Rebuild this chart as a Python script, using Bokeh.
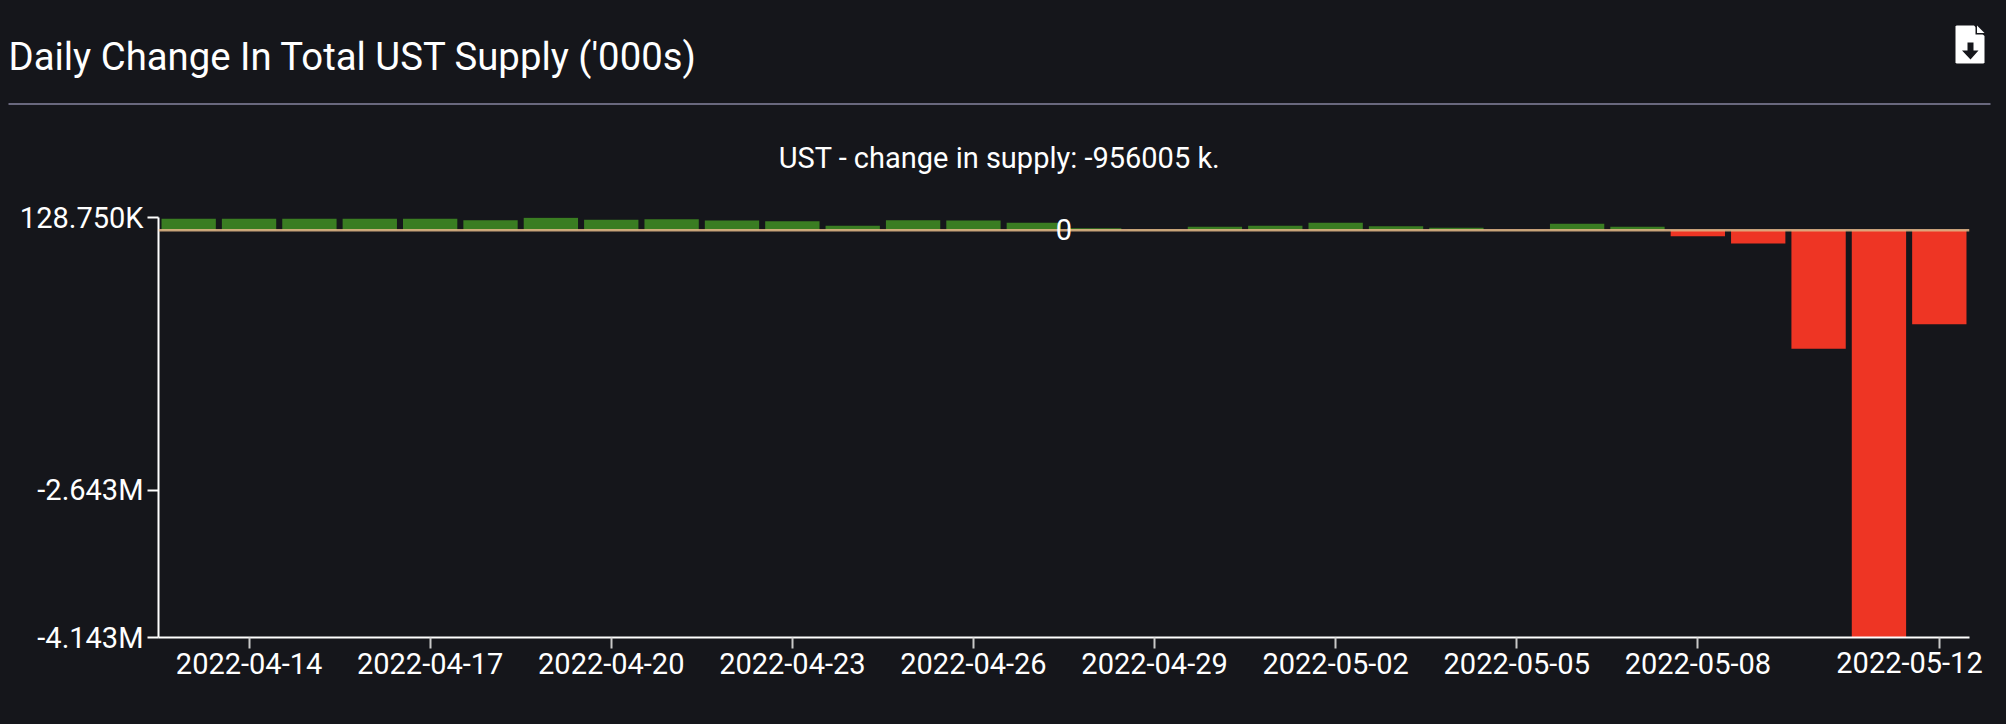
from bokeh.plotting import figure
from bokeh.embed import file_html
from bokeh.resources import INLINE
from bokeh.models import Range1d, FixedTicker, Label, Span
from bokeh.core.properties import value

dates = ["2022-04-13","2022-04-14","2022-04-15","2022-04-16","2022-04-17","2022-04-18","2022-04-19","2022-04-20",
         "2022-04-21","2022-04-22","2022-04-23","2022-04-24","2022-04-25","2022-04-26","2022-04-27","2022-04-28",
         "2022-04-29","2022-04-30","2022-05-01","2022-05-02","2022-05-03","2022-05-04","2022-05-05","2022-05-06",
         "2022-05-07","2022-05-08","2022-05-09","2022-05-10","2022-05-11","2022-05-12"]
supply_change = [115000,115000,115000,115000,115000,102000,125000,105000,
                 112000,98000,91000,44000,102000,98000,75000,20000,
                 5000,34000,44000,75000,41000,24000,1000,64000,
                 34000,-62000,-135000,-1206000,-4143000,-956005]
y_tick_values = [128750,-2643000,-4143000]
y_tick_labels = ["128.750K","-2.643M","-4.143M"]
x_tick_dates = ["2022-04-14","2022-04-17","2022-04-20","2022-04-23","2022-04-26","2022-04-29",
                "2022-05-02","2022-05-05","2022-05-08","2022-05-12"]
title_text = "Daily Change In Total UST Supply ('000s)"
subtitle_text = "UST - change in supply: -956005 k."

BG = "#15161b"
GREEN = "#3a7d22"
RED = "#ee3524"
FONT = "Roboto"
W, H, HEADER_H = 2006, 724, 180
bg_style = {"background-color": BG}

# ---- header: plain pixel ranges -----
h = figure(width=W, height=HEADER_H, output_backend="svg", toolbar_location=None,
           x_range=Range1d(0, W), y_range=Range1d(HEADER_H, 0),
           background_fill_color=None, border_fill_color=None, outline_line_color=None,
           min_border=0, x_axis_location=None, y_axis_location=None, styles=bg_style)
h.grid.visible = False
h.text(x=[8], y=[55.5], text=[title_text], text_color="white", text_font=value(FONT),
       text_font_size="38.3px", text_baseline="alphabetic")
h.text(x=[999], y=[174.5], text=[subtitle_text], text_color="white", text_font=value(FONT),
       text_font_size="29px", text_align="center", text_baseline="bottom")
h.segment(x0=[8], y0=[103.5], x1=[1990], y1=[103.5], line_color="#8685a0", line_width=1.5)
# download icon
h.patch(x=[1956,1973.5,1984,1984,1983,1956,1955,1955], y=[25,25,35.5,62,63,63,62,26], fill_color="white", line_color=None)
h.patch(x=[1975,1984,1975], y=[25,34,34], fill_color=BG, line_color=None)
h.patch(x=[1976.5,1984,1976.5], y=[25,32.5,32.5], fill_color="white", line_color=None)
h.patch(x=[1967,1973,1973,1978,1970,1961.5,1967], y=[42,42,50,50,59,50,50], fill_color=BG, line_color=None)

# ---- chart -----
idx = list(range(len(dates)))
pos = [i for i, v in zip(idx, supply_change) if v >= 0]
neg = [i for i, v in zip(idx, supply_change) if v < 0]

p = figure(width=W, height=H - HEADER_H, output_backend="svg", toolbar_location=None,
           x_range=Range1d(-0.5, len(dates) - 0.5), y_range=Range1d(min(y_tick_values), max(y_tick_values)),
           background_fill_color=None, border_fill_color=None, outline_line_color=None,
           min_border_left=158, min_border_right=37, min_border_top=37, min_border_bottom=87, styles=bg_style)
p.grid.visible = False

p.vbar(x=pos, top=[supply_change[i] for i in pos], bottom=0, width=0.9, fill_color=GREEN, line_color=None)
p.vbar(x=neg, top=0, bottom=[supply_change[i] for i in neg], width=0.9, fill_color=RED, line_color=None)
p.add_layout(Span(location=0, dimension="width", line_color="#e6b98a", line_alpha=0.85, line_width=2.5))

last_date = x_tick_dates[-1]
xa = p.xaxis[0]
xa.ticker = FixedTicker(ticks=[dates.index(d) for d in x_tick_dates])
xa.major_label_overrides = {dates.index(d): ("" if d == last_date else d) for d in x_tick_dates}
ya = p.yaxis[0]
ya.ticker = FixedTicker(ticks=y_tick_values)
ya.major_label_overrides = dict(zip(y_tick_values, y_tick_labels))
for ax in (xa, ya):
    ax.axis_line_color = "white"
    ax.axis_line_width = 2
    ax.major_tick_line_color = "white"
    ax.major_tick_line_width = 2
    ax.major_tick_in = 0
    ax.major_tick_out = 11
    ax.minor_tick_line_color = None
    ax.major_label_text_color = "white"
    ax.major_label_text_font = FONT
    ax.major_label_text_font_size = "29px"
xa.major_tick_line_color = "#c8c8c8"
xa.major_label_standoff = 4
ya.major_label_standoff = 4

p.add_layout(Label(x=(len(dates) - 1) / 2, y=0, y_offset=1, text="0", text_color="white",
                   text_font=FONT, text_font_size="29px", text_align="center", text_baseline="middle"))

# ---- last date label: sits left of its tick so that it stays on the page -----
f = figure(width=180, height=50, output_backend="svg", toolbar_location=None,
           x_range=Range1d(0, 180), y_range=Range1d(50, 0),
           background_fill_color=None, border_fill_color=None, outline_line_color=None,
           min_border=0, x_axis_location=None, y_axis_location=None,
           styles={"position": "absolute", "left": "1819px", "top": "629px"})
f.grid.visible = False
f.text(x=[90], y=[33], text=[last_date], text_color="white", text_font=value(FONT),
       text_font_size="29px", text_align="center", text_baseline="alphabetic")

open("out.html", "w").write(file_html([h, p, f], INLINE))
